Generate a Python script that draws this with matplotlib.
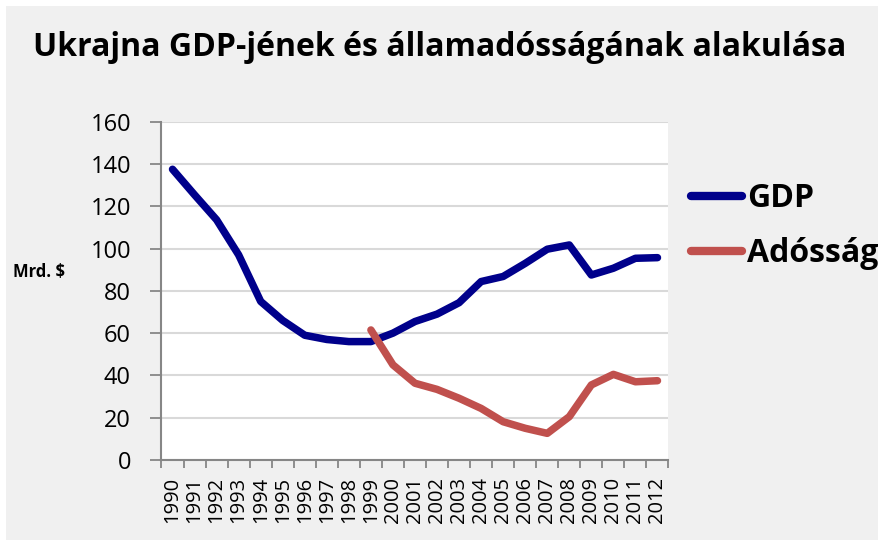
import matplotlib
matplotlib.use("Agg")
import matplotlib.pyplot as plt
from matplotlib.patches import Rectangle
import numpy as np

years = [str(y) for y in range(1990, 2013)]
gdp = [137.5, 125.4, 113.6, 97, 75, 66, 59, 57, 56, 56, 60, 65.5, 69, 74.4,
       84.4, 86.8, 93, 99.7, 101.7, 87.5, 90.7, 95.4, 95.7]
debt_years = [str(y) for y in range(1999, 2013)]
debt = [61.5, 45, 36.3, 33.4, 29.2, 24.4, 18.1, 15, 12.6, 20.5, 35.5, 40.5, 37, 37.5]
yticks = [0, 20, 40, 60, 80, 100, 120, 140, 160]

title = "Ukrajna GDP-jének és államadósságának alakulása"
ylabel = "Mrd. $"
series_names = ["GDP", "Adósság"]
colors = ["#00008b", "#c0504d"]

plt.rcParams['font.family'] = ['Open Sans', 'DejaVu Sans']

W, H = 879, 540
fig = plt.figure(figsize=(W / 100, H / 100), dpi=100, facecolor="white")
fig.patches.append(Rectangle((6 / W, 0), 1, 1 - 6 / H, transform=fig.transFigure,
                             facecolor="#f0f0f0", edgecolor="none", zorder=-10))

left, right, top, bottom = 161.5, 668.5, 121.7, 460
ax = fig.add_axes([left / W, 1 - bottom / H, (right - left) / W, (bottom - top) / H])
ax.set_facecolor("white")

x = np.arange(len(years))
xd = np.array([years.index(y) for y in debt_years])
ax.plot(x, gdp, color=colors[0], lw=5.4, solid_capstyle="round", solid_joinstyle="round",
        label=series_names[0], zorder=3)
ax.plot(xd, debt, color=colors[1], lw=5.4, solid_capstyle="round", solid_joinstyle="round",
        label=series_names[1], zorder=3)

ax.set_xlim(-0.5, len(years) - 0.5)
ax.set_ylim(0, 160)
ax.set_yticks(yticks)
ax.set_yticklabels([str(v) for v in yticks], fontsize=17)
ax.yaxis.grid(True, color="#d9d9d9", lw=1.5)
ax.set_axisbelow(True)

ax.set_xticks(x)
ax.set_xticklabels(years, rotation=90, fontsize=14.5)
ax.set_xticks(np.arange(-0.5, len(years)), minor=True)
ax.tick_params(axis="x", which="major", length=0, pad=12)
ax.tick_params(axis="x", which="minor", length=6, width=1.3, color="#868686", direction="out")
ax.tick_params(axis="y", length=8, width=1.3, color="#868686", direction="out", pad=14)

for s in ["top", "right"]:
    ax.spines[s].set_visible(False)
for s in ["left", "bottom"]:
    ax.spines[s].set_color("#868686")
    ax.spines[s].set_linewidth(1.5)

fig.text(0.5, 1 - 48 / H, title, ha="center", va="center", fontsize=23, fontweight="bold")
fig.text(13 / W, 1 - 272 / H, ylabel, ha="left", va="center", fontsize=12, fontweight="bold")

leg = ax.legend(loc="center left", bbox_to_anchor=(678 / W, 1 - 226 / H),
                bbox_transform=fig.transFigure, frameon=False,
                prop={"weight": "bold", "size": 23}, handlelength=1.6,
                handletextpad=0.15, labelspacing=0.68, borderaxespad=0)
for line in leg.get_lines():
    line.set_linewidth(6)

fig.savefig("out.png", dpi=100, facecolor=fig.get_facecolor())
